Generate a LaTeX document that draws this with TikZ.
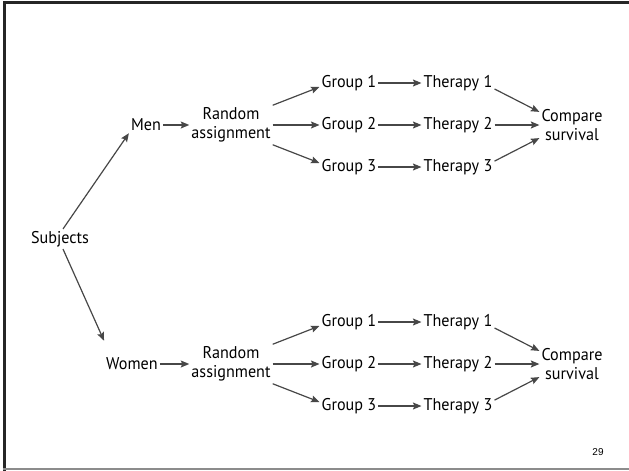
\documentclass[tikz,border=0pt]{standalone}
\usepackage{fontspec}
\setmainfont{PT Sans}[FakeStretch=0.95]
\newfontfamily\pagefont{Liberation Sans}
\usetikzlibrary{arrows.meta}

\tikzset{
  lbl/.style={font=\fontsize{17}{19.5}\selectfont, inner sep=2pt, align=center},
  arr/.style={-{Stealth[length=8.5pt,width=7pt,inset=1.5pt]}, line width=1.2pt, draw=black!72}
}

\begin{document}
\begin{tikzpicture}[x=1pt,y=-1pt]
\useasboundingbox (0,0) rectangle (629,471);

% Slide frame
\draw[black!85, line width=3pt] (4.5,471) -- (4.5,2.5) -- (629,2.5);
\draw[black!45, line width=2pt] (3,469) -- (629,469);

% === ROOT ===
\node[lbl] (subj) at (60,239) {Subjects};

% === MEN (top) and WOMEN (bottom) ===
\foreach \h/\who/\wx/\dy in {m/Men/146/0, w/Women/132/239} {
  \node[lbl] (\h-who) at (\wx,{125+\dy}) {\who};
  \node[lbl] (\h-rnd) at (231,{125+\dy}) {Random\\assignment};
  \node[lbl] (\h-cmp) at (572,{125+\dy}) {Compare\\survival};

  \foreach \g/\gy in {1/83,2/125,3/167} {
    \node[lbl] (\h-g\g) at (349,{\gy+\dy}) {Group \g};
    \node[lbl] (\h-t\g) at (458,{\gy+\dy}) {Therapy \g};
    \draw[arr] (\h-g\g) -- (\h-t\g);
  }

  \draw[arr] (\h-who) -- (\h-rnd);
  \draw[arr] (\h-rnd.north east) -- ([yshift=-4pt]\h-g1.west);
  \draw[arr] (\h-rnd) -- (\h-g2);
  \draw[arr] (\h-rnd.south east) -- ([yshift=4pt]\h-g3.west);
  \draw[arr] ([yshift=4pt]\h-t1.south east) -- ([yshift=-5pt]\h-cmp.north west);
  \draw[arr] (\h-t2) -- (\h-cmp);
  \draw[arr] ([yshift=-4pt]\h-t3.north east) -- ([yshift=5pt]\h-cmp.south west);
}

\draw[arr] ([xshift=3pt]subj.north) -- (m-who.south west);
\draw[arr] ([xshift=3pt]subj.south) -- ([yshift=15pt]w-who.north west);

% page number
\node[font=\pagefont\fontsize{10}{12}\selectfont] (pg) at (598,452) {29};

\end{tikzpicture}
\end{document}
